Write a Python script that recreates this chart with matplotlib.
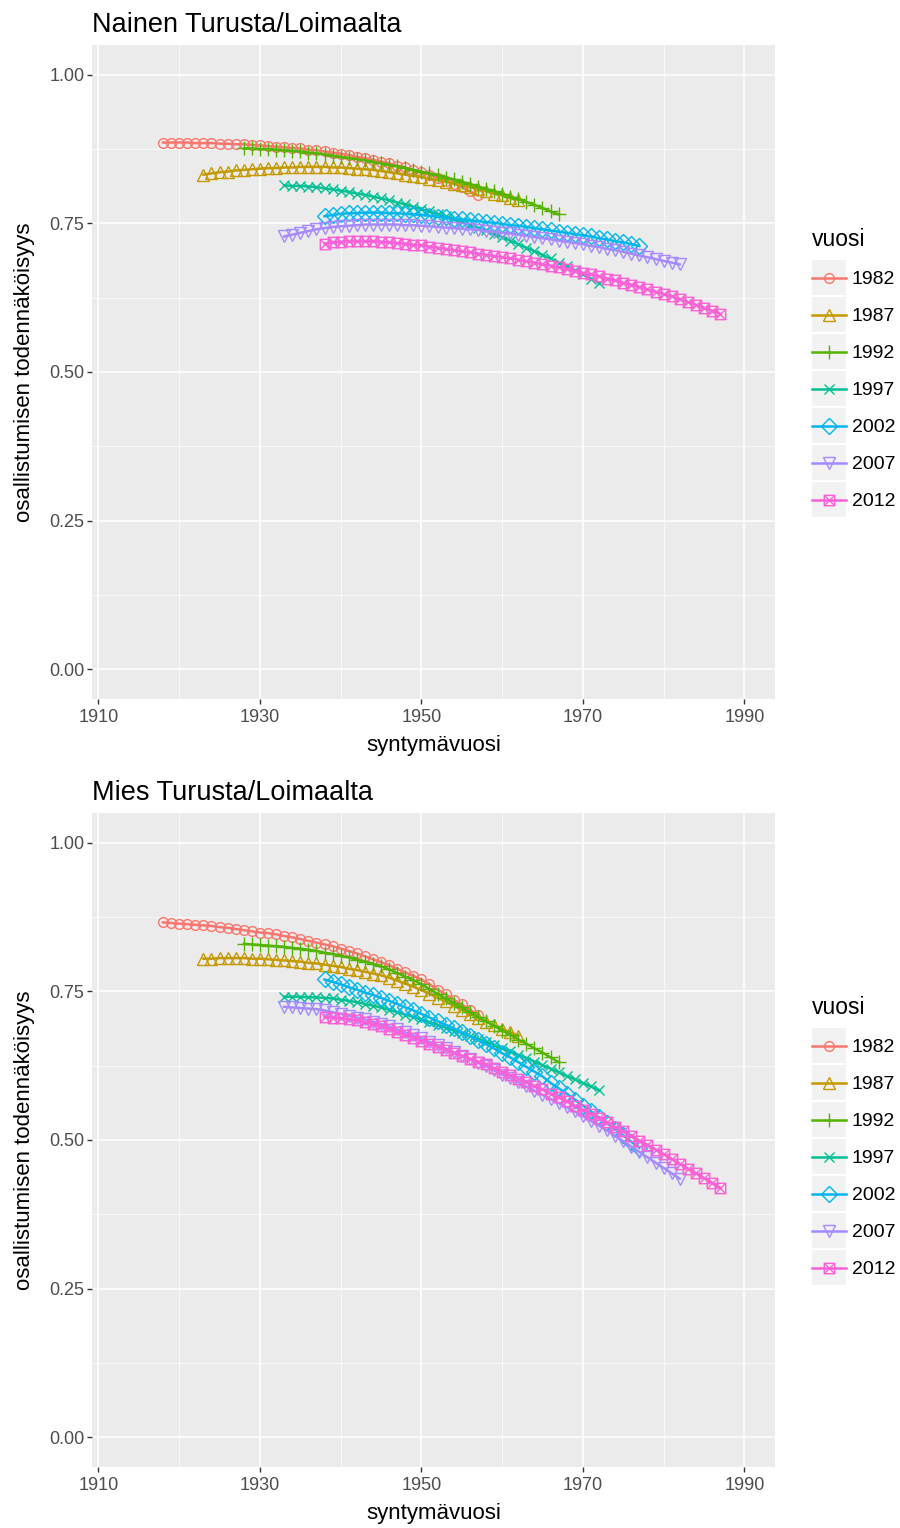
import numpy as np
import matplotlib
matplotlib.use("Agg")
import matplotlib.pyplot as plt
from matplotlib.path import Path
from matplotlib.patches import Rectangle
from matplotlib.legend_handler import HandlerLine2D

plt.rcParams["font.family"] = ["Liberation Sans", "DejaVu Sans"]

# vaalivuodet ja ensimmäinen syntymävuosi kullekin sarjalle
vuodet = ["1982", "1987", "1992", "1997", "2002", "2007", "2012"]
alku = [1918, 1923, 1928, 1933, 1938, 1933, 1938]

# Nainen Turusta/Loimaalta
nainen_1982 = [0.886, 0.886, 0.886, 0.886, 0.885, 0.885, 0.885, 0.884, 0.884, 0.883,
               0.883, 0.882, 0.881, 0.880, 0.879, 0.878, 0.877, 0.876, 0.874, 0.873,
               0.871, 0.869, 0.867, 0.865, 0.862, 0.860, 0.857, 0.854, 0.851, 0.847,
               0.844, 0.840, 0.836, 0.832, 0.827, 0.822, 0.817, 0.811, 0.804, 0.797]
nainen_1987 = [0.832, 0.834, 0.836, 0.837, 0.839, 0.840, 0.841, 0.842, 0.843, 0.843,
               0.844, 0.844, 0.845, 0.845, 0.845, 0.845, 0.844, 0.844, 0.843, 0.842,
               0.841, 0.840, 0.838, 0.836, 0.834, 0.832, 0.830, 0.828, 0.825, 0.823,
               0.820, 0.817, 0.814, 0.811, 0.807, 0.804, 0.800, 0.797, 0.793, 0.789]
nainen_1992 = [0.876, 0.876, 0.875, 0.875, 0.874, 0.873, 0.872, 0.871, 0.869, 0.868,
               0.866, 0.864, 0.862, 0.860, 0.858, 0.856, 0.853, 0.851, 0.848, 0.846,
               0.843, 0.840, 0.837, 0.834, 0.831, 0.827, 0.824, 0.820, 0.816, 0.812,
               0.808, 0.804, 0.800, 0.795, 0.791, 0.786, 0.781, 0.776, 0.770, 0.765]
nainen_1997 = [0.814, 0.813, 0.813, 0.812, 0.811, 0.809, 0.807, 0.805, 0.803, 0.800,
               0.798, 0.795, 0.792, 0.789, 0.785, 0.782, 0.778, 0.774, 0.770, 0.766,
               0.762, 0.757, 0.753, 0.748, 0.743, 0.738, 0.732, 0.727, 0.721, 0.715,
               0.709, 0.703, 0.697, 0.691, 0.684, 0.678, 0.671, 0.664, 0.657, 0.650]
nainen_2002 = [0.762, 0.764, 0.766, 0.767, 0.767, 0.768, 0.768, 0.768, 0.767, 0.767,
               0.766, 0.765, 0.764, 0.763, 0.761, 0.760, 0.758, 0.757, 0.755, 0.754,
               0.752, 0.751, 0.749, 0.747, 0.746, 0.744, 0.742, 0.740, 0.738, 0.736,
               0.734, 0.732, 0.730, 0.728, 0.725, 0.723, 0.720, 0.718, 0.715, 0.712]
nainen_2007 = [0.728, 0.731, 0.734, 0.737, 0.740, 0.742, 0.744, 0.745, 0.746, 0.747,
               0.748, 0.748, 0.748, 0.748, 0.748, 0.747, 0.747, 0.746, 0.745, 0.744,
               0.743, 0.742, 0.741, 0.740, 0.739, 0.737, 0.736, 0.734, 0.733, 0.731,
               0.729, 0.727, 0.725, 0.723, 0.721, 0.719, 0.717, 0.715, 0.712, 0.710,
               0.707, 0.705, 0.702, 0.699, 0.696, 0.693, 0.690, 0.687, 0.684, 0.681]
nainen_2012 = [0.716, 0.718, 0.719, 0.720, 0.720, 0.720, 0.720, 0.719, 0.718, 0.717,
               0.716, 0.714, 0.713, 0.711, 0.709, 0.707, 0.705, 0.703, 0.701, 0.699,
               0.697, 0.695, 0.693, 0.691, 0.689, 0.686, 0.684, 0.681, 0.679, 0.676,
               0.673, 0.670, 0.667, 0.664, 0.661, 0.657, 0.654, 0.650, 0.647, 0.643,
               0.639, 0.635, 0.631, 0.627, 0.622, 0.618, 0.613, 0.608, 0.603, 0.598]

# Mies Turusta/Loimaalta
mies_1982 = [0.866, 0.865, 0.864, 0.863, 0.862, 0.861, 0.860, 0.858, 0.857, 0.855,
             0.853, 0.851, 0.849, 0.848, 0.846, 0.843, 0.841, 0.838, 0.835, 0.832,
             0.829, 0.826, 0.822, 0.818, 0.814, 0.809, 0.804, 0.799, 0.794, 0.788,
             0.782, 0.776, 0.770, 0.762, 0.753, 0.745, 0.736, 0.728, 0.719, 0.710]
mies_1987 = [0.805, 0.805, 0.806, 0.806, 0.806, 0.806, 0.805, 0.805, 0.804, 0.803,
             0.802, 0.801, 0.800, 0.798, 0.797, 0.795, 0.793, 0.791, 0.788, 0.786,
             0.783, 0.780, 0.777, 0.773, 0.768, 0.763, 0.758, 0.752, 0.746, 0.739,
             0.733, 0.726, 0.719, 0.712, 0.706, 0.699, 0.693, 0.687, 0.681, 0.675]
mies_1992 = [0.830, 0.829, 0.828, 0.827, 0.826, 0.825, 0.823, 0.822, 0.820, 0.818,
             0.815, 0.813, 0.810, 0.807, 0.803, 0.800, 0.796, 0.792, 0.787, 0.781,
             0.775, 0.769, 0.762, 0.754, 0.746, 0.738, 0.731, 0.723, 0.715, 0.707,
             0.700, 0.692, 0.684, 0.677, 0.669, 0.662, 0.654, 0.647, 0.639, 0.631]
mies_1997 = [0.741, 0.741, 0.741, 0.740, 0.740, 0.739, 0.738, 0.736, 0.734, 0.732,
             0.729, 0.726, 0.723, 0.719, 0.715, 0.711, 0.707, 0.703, 0.698, 0.694,
             0.689, 0.684, 0.680, 0.675, 0.670, 0.665, 0.660, 0.654, 0.649, 0.643,
             0.638, 0.632, 0.626, 0.620, 0.614, 0.608, 0.602, 0.596, 0.590, 0.584]
mies_2002 = [0.770, 0.766, 0.762, 0.757, 0.753, 0.748, 0.744, 0.739, 0.734, 0.729,
             0.723, 0.718, 0.712, 0.706, 0.700, 0.694, 0.688, 0.681, 0.675, 0.668,
             0.661, 0.654, 0.646, 0.639, 0.631, 0.623, 0.615, 0.607, 0.596, 0.587,
             0.578, 0.568, 0.558, 0.548, 0.538, 0.528, 0.518, 0.508, 0.497, 0.487]
mies_2007 = [0.724, 0.723, 0.722, 0.721, 0.720, 0.718, 0.715, 0.712, 0.709, 0.706,
             0.703, 0.699, 0.695, 0.691, 0.686, 0.681, 0.676, 0.671, 0.665, 0.660,
             0.654, 0.648, 0.642, 0.636, 0.630, 0.624, 0.617, 0.610, 0.604, 0.597,
             0.590, 0.583, 0.576, 0.569, 0.562, 0.555, 0.548, 0.540, 0.532, 0.524,
             0.516, 0.507, 0.498, 0.489, 0.480, 0.471, 0.462, 0.453, 0.444, 0.435]
mies_2012 = [0.707, 0.706, 0.705, 0.703, 0.701, 0.698, 0.695, 0.691, 0.687, 0.682,
             0.677, 0.672, 0.667, 0.662, 0.657, 0.652, 0.647, 0.642, 0.637, 0.632,
             0.627, 0.621, 0.615, 0.609, 0.603, 0.597, 0.591, 0.585, 0.578, 0.572,
             0.565, 0.558, 0.551, 0.544, 0.537, 0.530, 0.522, 0.515, 0.507, 0.499,
             0.492, 0.484, 0.476, 0.468, 0.460, 0.452, 0.444, 0.436, 0.428, 0.420]

nainen = [nainen_1982, nainen_1987, nainen_1992, nainen_1997, nainen_2002, nainen_2007, nainen_2012]
mies = [mies_1982, mies_1987, mies_1992, mies_1997, mies_2002, mies_2007, mies_2012]

# ggplot2 default hue colours and shapes 1..7
colors = ["#F8766D", "#C49A00", "#53B400", "#00C094", "#00B6EB", "#A58AFF", "#FB61D7"]
boxed_x = Path([(-1, -1), (1, -1), (1, 1), (-1, 1), (-1, -1), (1, 1), (-1, 1), (1, -1)],
               [Path.MOVETO, Path.LINETO, Path.LINETO, Path.LINETO, Path.LINETO,
                Path.LINETO, Path.MOVETO, Path.LINETO])
markers = ["o", "^", "+", "x", "D", "v", boxed_x]
msizes = [7.0, 8.0, 9.5, 7.5, 8.0, 8.0, 7.5]

W, H, DPI = 900, 1528, 100


class KeyHandler(HandlerLine2D):
    # harmaa tausta legendan avaimille kuten ggplotissa, viiva laatikon keskelle
    def create_artists(self, legend, orig_handle, xdescent, ydescent, width, height, fontsize, trans):
        bg = Rectangle((-xdescent, -ydescent), width, height, facecolor="#F2F2F2",
                       edgecolor="none", transform=trans)
        arts = super().create_artists(legend, orig_handle, xdescent, ydescent, width, height, fontsize, trans)
        for a in arts:
            a.set_ydata(np.asarray(a.get_ydata()) - ydescent / 2)
        return [bg] + list(arts)


def draw_panel(fig, top_px, title, series):
    left, right, bottom = 92, 775, top_px + 654
    ax = fig.add_axes([left / W, 1 - bottom / H, (right - left) / W, 654 / H])
    ax.set_facecolor("#EBEBEB")
    for s in ax.spines.values():
        s.set_visible(False)
    handles = []
    for i, vals in enumerate(series):
        years = np.arange(alku[i], alku[i] + len(vals))
        filled = markers[i] in ("+", "x")
        ln, = ax.plot(years, vals, color=colors[i], lw=1.8, marker=markers[i], ms=msizes[i],
                      mfc=colors[i] if filled else "none", mec=colors[i], mew=1.0, label=vuodet[i])
        handles.append(ln)
    ax.set_xlim(1909.2, 1993.8)
    ax.set_ylim(-0.05, 1.05)
    ax.set_xticks([1910, 1930, 1950, 1970, 1990])
    ax.set_xticks([1920, 1940, 1960, 1980], minor=True)
    ax.set_yticks([0, 0.25, 0.5, 0.75, 1.0])
    ax.set_yticklabels(["0.00", "0.25", "0.50", "0.75", "1.00"])
    ax.set_yticks([0.125, 0.375, 0.625, 0.875], minor=True)
    ax.grid(which="major", color="white", lw=1.1)
    ax.grid(which="minor", color="white", lw=0.5)
    ax.set_axisbelow(True)
    ax.tick_params(which="major", length=3.5, width=1.0, color="#333333",
                   labelsize=13, labelcolor="#4D4D4D", pad=4)
    ax.tick_params(axis="y", which="major", pad=2)
    ax.tick_params(which="minor", length=0)
    ax.set_xlabel("syntymävuosi", fontsize=16, labelpad=6)
    ax.set_ylabel("osallistumisen todennäköisyys", fontsize=16, labelpad=10)
    ax.set_title(title, loc="left", fontsize=19.5, pad=9)
    leg = ax.legend(handles=handles, title="vuosi", loc="upper left",
                    bbox_to_anchor=((812 - left) / (right - left), 1 - (228 - 45) / 654),
                    frameon=False, fontsize=14, title_fontsize=16.5, handlelength=1.75,
                    handleheight=2.4, labelspacing=0.1, handletextpad=0.3,
                    borderaxespad=0, borderpad=0, handler_map={plt.Line2D: KeyHandler()})
    leg._legend_box.align = "left"
    leg._legend_box.sep = 6.5
    return ax


fig = plt.figure(figsize=(W / DPI, H / DPI), dpi=DPI)
draw_panel(fig, 45, "Nainen Turusta/Loimaalta", nainen)
draw_panel(fig, 813, "Mies Turusta/Loimaalta", mies)
fig.savefig("out.png", dpi=DPI)
